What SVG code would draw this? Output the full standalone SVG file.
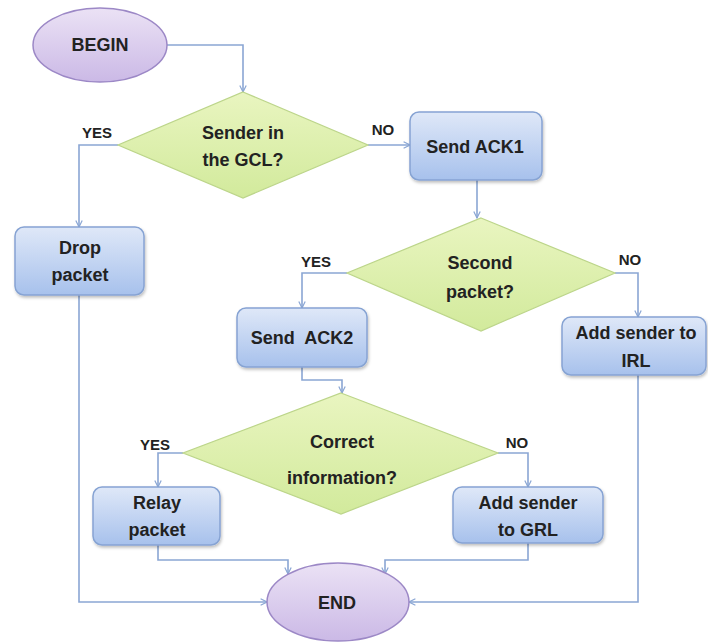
<svg xmlns="http://www.w3.org/2000/svg" width="708" height="642" viewBox="0 0 708 642">
<defs>
<linearGradient id="gBox" x1="0" y1="0" x2="0" y2="1"><stop offset="0" stop-color="#dfe8f8"/><stop offset="1" stop-color="#a7c1ec"/></linearGradient>
<linearGradient id="gDia" x1="0" y1="0" x2="0" y2="1"><stop offset="0" stop-color="#e9f5c0"/><stop offset="1" stop-color="#d2ea9c"/></linearGradient>
<linearGradient id="gEll" x1="0" y1="0" x2="0" y2="1"><stop offset="0" stop-color="#ebe2f5"/><stop offset="1" stop-color="#cbb9e6"/></linearGradient>
<filter id="sh" x="-10%" y="-10%" width="125%" height="130%"><feDropShadow dx="1" dy="2" stdDeviation="1.5" flood-color="#000" flood-opacity="0.25"/></filter>
<marker id="arr" viewBox="0 0 10 10" refX="9" refY="5" markerWidth="8" markerHeight="8" markerUnits="userSpaceOnUse" orient="auto"><path d="M1,1 L9,5 L1,9" fill="none" stroke="#8aa6d4" stroke-width="1.5"/></marker>
</defs>
<style>
.box{fill:url(#gBox);stroke:#86a3d3;stroke-width:1.5;filter:url(#sh)}
.dia{fill:url(#gDia);stroke:#bcd58a;stroke-width:1.2}
.ell{fill:url(#gEll);stroke:#9c88c6;stroke-width:1.5}
.t{font-family:"Liberation Sans",Arial,sans-serif;font-weight:bold;font-size:18px;fill:#222;text-anchor:middle}
.lb{font-family:"Liberation Sans",Arial,sans-serif;font-weight:bold;font-size:15px;fill:#222;text-anchor:middle}
.c{fill:none;stroke:#8aa6d4;stroke-width:1.6;marker-end:url(#arr)}
</style>
<rect width="708" height="642" fill="#fff"/>
<g id="connectors">
<path class="c" d="M167,45 H243 V92"/>
<path class="c" d="M118,145 H79 V227"/>
<path class="c" d="M368,145 H410"/>
<path class="c" d="M477,180 V218"/>
<path class="c" d="M347,273 H302 V308"/>
<path class="c" d="M615,273 H638 V317"/>
<path class="c" d="M302,367 V380 H342 V393"/>
<path class="c" d="M183,453 H158 V487"/>
<path class="c" d="M498,453 H528 V487"/>
<path class="c" d="M79,295 V602 H267"/>
<path class="c" d="M638,375 V602 H409"/>
<path class="c" d="M158,545 V560 H288 V574"/>
<path class="c" d="M528,543 V560 H385 V574"/>
</g>
<g id="labels">
<text class="lb" x="97" y="138">YES</text>
<text class="lb" x="383" y="135">NO</text>
<text class="lb" x="316" y="267">YES</text>
<text class="lb" x="630" y="265">NO</text>
<text class="lb" x="155" y="450">YES</text>
<text class="lb" x="517" y="448">NO</text>
</g>
<g id="begin"><ellipse class="ell" cx="100" cy="45" rx="67" ry="37"/><text class="t" x="100" y="51">BEGIN</text></g>
<g id="d1"><polygon class="dia" points="243,92 368,145 243,198 118,145"/><text class="t" x="243" y="139">Sender in</text><text class="t" x="243" y="166">the GCL?</text></g>
<g id="ack1"><rect class="box" x="410" y="112" width="132" height="68" rx="9"/><text class="t" x="475" y="153">Send ACK1</text></g>
<g id="drop"><rect class="box" x="15" y="227" width="129" height="68" rx="9"/><text class="t" x="80" y="254">Drop</text><text class="t" x="80" y="281">packet</text></g>
<g id="d2"><polygon class="dia" points="481,218 615,273 481,331 347,273"/><text class="t" x="480" y="269">Second</text><text class="t" x="480" y="298">packet?</text></g>
<g id="ack2"><rect class="box" x="237" y="308" width="130" height="59" rx="9"/><text class="t" x="302" y="344" xml:space="preserve">Send  ACK2</text></g>
<g id="irl"><rect class="box" x="562" y="317" width="144" height="58" rx="9"/><text class="t" x="636" y="339">Add sender to</text><text class="t" x="636" y="367">IRL</text></g>
<g id="d3"><polygon class="dia" points="341,393 498,453 341,514 183,453"/><text class="t" x="342" y="448">Correct</text><text class="t" x="342" y="484">information?</text></g>
<g id="relay"><rect class="box" x="93" y="487" width="127" height="58" rx="9"/><text class="t" x="157" y="509">Relay</text><text class="t" x="157" y="536">packet</text></g>
<g id="grl"><rect class="box" x="453" y="487" width="150" height="56" rx="9"/><text class="t" x="528" y="509">Add sender</text><text class="t" x="528" y="536">to GRL</text></g>
<g id="end"><ellipse class="ell" cx="338" cy="602" rx="71" ry="39"/><text class="t" x="337" y="609">END</text></g>
</svg>
